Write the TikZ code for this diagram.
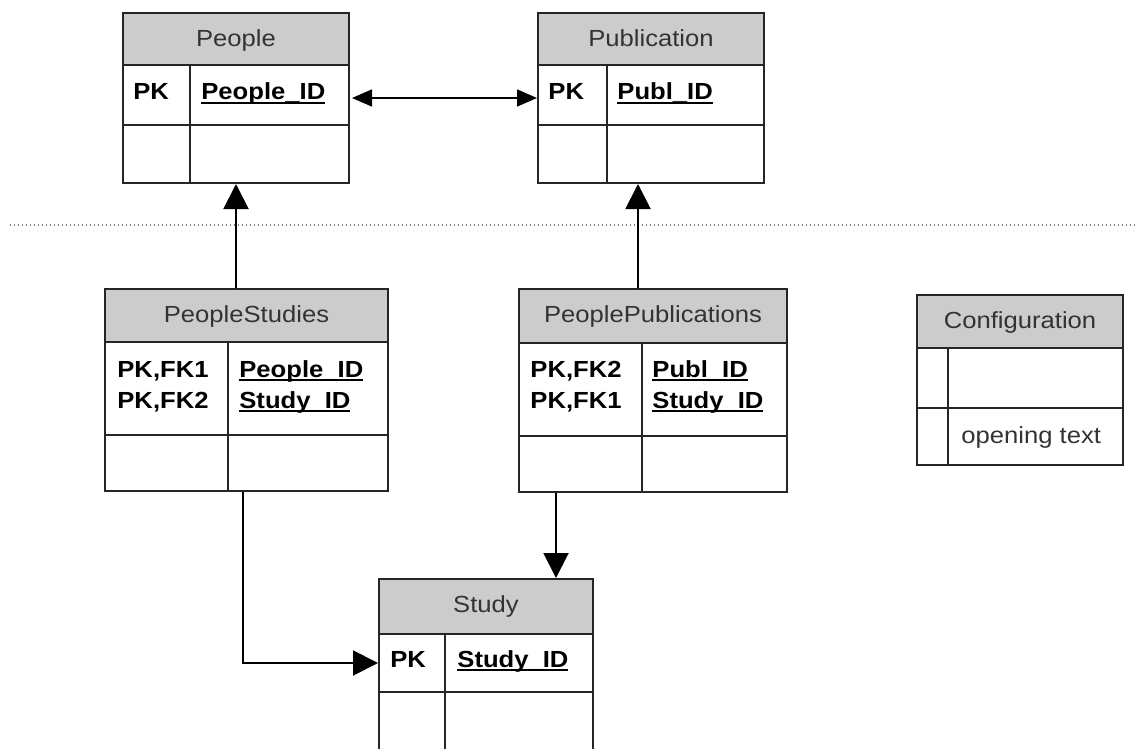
\documentclass[tikz,border=0pt]{standalone}
\usepackage{fontspec}
\setmainfont[FakeStretch=1.1]{Liberation Sans}
\usetikzlibrary{arrows.meta,fit}

\newcommand\myul[1]{\setbox0=\hbox{#1}\rlap{\rule[-1.9pt]{\wd0}{0.8pt}}\box0}

\tikzset{
 hdr/.style={fill=black!20},
 innerln/.style={draw=black!85, line width=0.7pt},
 outerln/.style={draw=black!85, line width=1pt},
 ttl/.style={anchor=base, inner sep=0pt, text=black!80, font=\fontsize{11.65}{14}\selectfont},
 keytxt/.style={anchor=base west, inner sep=0pt, font=\fontsize{11.65}{14}\selectfont\bfseries},
 plaintxt/.style={anchor=base west, inner sep=0pt, text=black!80, font=\fontsize{11.65}{14}\selectfont},
 bigarrow/.style={line width=1pt, -{Triangle[length=12.5pt,width=12.5pt]}},
 botharrow/.style={line width=0.8pt, {Triangle[length=10pt,width=8.5pt]}-{Triangle[length=10pt,width=8.5pt]}},
 sepline/.style={black!50, line width=0.6pt, dash pattern=on 0.6pt off 1.4pt},
}

% #1 name, #2 x1, #3 y1, #4 x2, #5 y2, #6 header bottom, #7 row1 bottom, #8 divider x, #9 title
\newcommand\ertab[9]{%
 \fill[hdr] (#2,#3) rectangle (#4,#6);
 \draw[innerln] (#2,#6) -- (#4,#6);
 \draw[innerln] (#2,#7) -- (#4,#7);
 \draw[innerln] (#8,#6) -- (#8,#5);
 \node[fit={(#2,#3)(#4,#5)}, inner sep=0pt, outerln] (#1) {};
 \node[ttl] (#1-title) at ({(#2+#4)/2},{#3+33.5}) {#9};
}

\begin{document}
\begin{tikzpicture}[x=0.5pt,y=-0.5pt]
\clip (0,0) rectangle (1135,749);
\fill[white] (0,0) rectangle (1135,749);

\ertab{people}{123}{13}{349}{183}{65}{125}{190}{People}
\node[keytxt] (people-k1) at (133,100) {PK};
\node[keytxt] (people-f1) at (201,100) {\myul{People\_ID}};

\ertab{pub}{538}{13}{764}{183}{65}{125}{607}{Publication}
\node[keytxt] (pub-k1) at (548,100) {PK};
\node[keytxt] (pub-f1) at (617,100) {\myul{Publ\_ID}};

\ertab{ps}{105}{289}{388}{491}{342}{435}{228}{PeopleStudies}
\node[keytxt] (ps-k1) at (117,377) {PK,FK1};
\node[keytxt] (ps-k2) at (117,408) {PK,FK2};
\node[keytxt] (ps-f1) at (239,377) {\myul{People\_ID}};
\node[keytxt] (ps-f2) at (239,408) {\myul{Study\_ID}};

\ertab{pp}{519}{289}{787}{492}{343}{436}{642}{PeoplePublications}
\node[keytxt] (pp-k1) at (530,377) {PK,FK2};
\node[keytxt] (pp-k2) at (530,408) {PK,FK1};
\node[keytxt] (pp-f1) at (652,377) {\myul{Publ\_ID}};
\node[keytxt] (pp-f2) at (652,408) {\myul{Study\_ID}};

\ertab{conf}{917}{295}{1123}{465}{348}{408}{948}{Configuration}
\node[plaintxt] (conf-f2) at (961,443) {opening text};

\ertab{study}{379}{579}{593}{770}{634}{692}{445}{Study}
\node[keytxt] (study-k1) at (390,667) {PK};
\node[keytxt] (study-f1) at (457,667) {\myul{Study\_ID}};

\draw[sepline] (10,225) -- (1135,225);

\draw[botharrow, shorten <=1pt] (people.east) -- (pub.west);
\draw[bigarrow] (ps.north -| people.south) -- (people.south);
\draw[bigarrow] ([xshift=-7.5pt]pp.north) -- ([xshift=-7.5pt]pp.north |- pub.south);
\draw[bigarrow] ([xshift=-1.75pt]ps.south) |- ([yshift=-42.5pt]study.north west);
\draw[bigarrow] ([xshift=-48.5pt]pp.south) -- ([xshift=-48.5pt]pp.south |- study.north);
\end{tikzpicture}
\end{document}
